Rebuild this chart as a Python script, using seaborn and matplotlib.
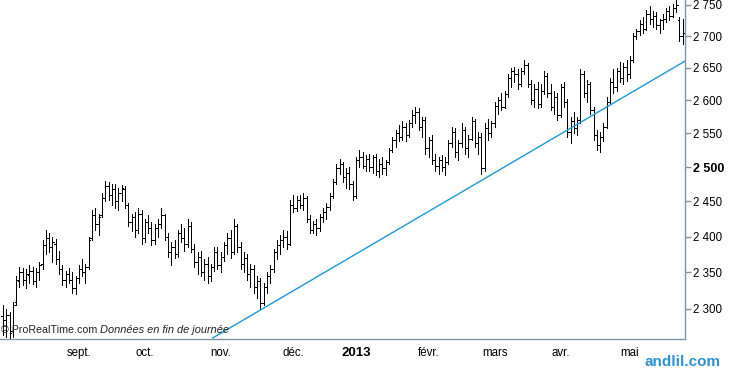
'''
Daily OHLC bars, Aug 2012 - May 2013, with a rising trend line.
'''
import pandas as pd
import numpy as np
import seaborn as sns
import matplotlib.pyplot as plt

# trading calendar (exchange closed on these days)
holidays = ['2012-12-25', '2012-12-26', '2013-01-01',
            '2013-03-29', '2013-04-01', '2013-05-01']
days = pd.bdate_range('2012-08-01', '2013-05-24', freq='C', holidays=holidays)

opens = [2290, 2285, 2292, 2270, 2310, 2338, 2350, 2340, 2346, 2352,
         2338, 2350, 2362, 2388, 2398, 2385, 2390, 2368, 2355, 2340,
         2348, 2340, 2328, 2342, 2355, 2350, 2358, 2398, 2430, 2418,
         2430, 2455, 2472, 2460, 2468, 2450, 2462, 2468, 2445, 2420,
         2428, 2410, 2432, 2398, 2420, 2412, 2395, 2412, 2418, 2430,
         2400, 2378, 2385, 2375, 2405, 2398, 2390, 2415, 2382, 2365,
         2372, 2350, 2362, 2345, 2358, 2378, 2360, 2372, 2388, 2398,
         2378, 2415, 2385, 2362, 2370, 2348, 2355, 2330, 2338, 2308,
         2330, 2345, 2355, 2378, 2388, 2395, 2400, 2390, 2445, 2440,
         2452, 2445, 2455, 2425, 2410, 2418, 2412, 2428, 2435, 2442,
         2458, 2478, 2498, 2505, 2485, 2492, 2475, 2458, 2510, 2515,
         2502, 2512, 2500, 2515, 2495, 2505, 2498, 2508, 2525, 2540,
         2550, 2545, 2560, 2548, 2565, 2578, 2582, 2560, 2570, 2528,
         2540, 2510, 2502, 2510, 2500, 2508, 2535, 2552, 2522, 2535,
         2555, 2528, 2542, 2568, 2535, 2545, 2498, 2558, 2550, 2565,
         2592, 2600, 2590, 2610, 2635, 2645, 2640, 2625, 2645, 2655,
         2625, 2600, 2618, 2595, 2615, 2638, 2612, 2590, 2605, 2578,
         2620, 2598, 2552, 2568, 2558, 2570, 2640, 2612, 2625, 2585,
         2548, 2532, 2545, 2560, 2598, 2628, 2620, 2645, 2635, 2652,
         2640, 2662, 2700, 2708, 2720, 2712, 2735, 2728, 2732, 2718,
         2725, 2728, 2740, 2732, 2745, 2725, 2700]
highs = [2305, 2300, 2296, 2310, 2345, 2358, 2356, 2355, 2360, 2358,
         2356, 2365, 2395, 2410, 2405, 2400, 2396, 2380, 2360, 2352,
         2356, 2350, 2345, 2360, 2368, 2362, 2400, 2438, 2440, 2432,
         2462, 2480, 2478, 2475, 2476, 2470, 2474, 2472, 2448, 2432,
         2435, 2440, 2438, 2425, 2430, 2420, 2418, 2425, 2440, 2432,
         2405, 2392, 2395, 2410, 2418, 2412, 2425, 2420, 2390, 2378,
         2380, 2368, 2372, 2362, 2385, 2385, 2378, 2392, 2405, 2410,
         2425, 2418, 2392, 2378, 2375, 2362, 2360, 2345, 2342, 2335,
         2350, 2360, 2382, 2395, 2402, 2410, 2408, 2452, 2460, 2458,
         2460, 2462, 2458, 2430, 2422, 2425, 2432, 2440, 2448, 2462,
         2482, 2505, 2512, 2508, 2498, 2500, 2480, 2515, 2525, 2522,
         2518, 2520, 2518, 2520, 2512, 2515, 2510, 2528, 2545, 2555,
         2562, 2568, 2565, 2570, 2585, 2590, 2588, 2575, 2575, 2545,
         2548, 2520, 2515, 2518, 2515, 2540, 2560, 2558, 2540, 2565,
         2560, 2548, 2575, 2572, 2552, 2550, 2565, 2572, 2568, 2598,
         2605, 2612, 2615, 2640, 2650, 2652, 2648, 2650, 2662, 2658,
         2632, 2625, 2628, 2625, 2645, 2642, 2625, 2615, 2612, 2625,
         2628, 2602, 2575, 2582, 2575, 2648, 2645, 2632, 2628, 2590,
         2555, 2552, 2565, 2605, 2635, 2648, 2650, 2660, 2658, 2662,
         2668, 2705, 2712, 2725, 2730, 2742, 2748, 2740, 2738, 2728,
         2735, 2745, 2748, 2752, 2758, 2730, 2728]
lows = [2265, 2262, 2258, 2262, 2305, 2330, 2332, 2328, 2335, 2334,
        2330, 2340, 2355, 2375, 2378, 2365, 2362, 2348, 2332, 2330,
        2335, 2322, 2320, 2336, 2345, 2335, 2355, 2395, 2410, 2402,
        2428, 2450, 2452, 2445, 2440, 2438, 2450, 2440, 2415, 2408,
        2400, 2405, 2390, 2392, 2405, 2388, 2390, 2400, 2412, 2395,
        2372, 2360, 2370, 2372, 2392, 2380, 2385, 2378, 2358, 2348,
        2345, 2340, 2335, 2338, 2352, 2355, 2350, 2366, 2375, 2370,
        2375, 2378, 2355, 2350, 2340, 2330, 2322, 2315, 2300, 2305,
        2322, 2335, 2350, 2368, 2375, 2385, 2382, 2388, 2435, 2436,
        2440, 2438, 2420, 2405, 2405, 2402, 2408, 2420, 2425, 2438,
        2455, 2475, 2490, 2478, 2470, 2468, 2452, 2455, 2500, 2498,
        2495, 2495, 2492, 2488, 2485, 2490, 2488, 2505, 2522, 2530,
        2538, 2540, 2538, 2545, 2560, 2565, 2555, 2545, 2520, 2515,
        2505, 2495, 2490, 2495, 2488, 2505, 2530, 2515, 2510, 2530,
        2520, 2515, 2540, 2530, 2520, 2490, 2495, 2540, 2545, 2560,
        2580, 2585, 2588, 2605, 2620, 2628, 2618, 2622, 2640, 2620,
        2595, 2590, 2588, 2590, 2610, 2605, 2585, 2580, 2570, 2575,
        2590, 2545, 2535, 2550, 2548, 2565, 2605, 2598, 2580, 2540,
        2525, 2522, 2538, 2558, 2595, 2612, 2615, 2628, 2625, 2630,
        2635, 2660, 2695, 2702, 2705, 2710, 2720, 2715, 2712, 2705,
        2712, 2722, 2725, 2730, 2738, 2692, 2688]
closes = [2285, 2292, 2268, 2305, 2340, 2350, 2340, 2348, 2352, 2338,
          2350, 2360, 2388, 2398, 2385, 2392, 2368, 2355, 2340, 2348,
          2340, 2328, 2342, 2355, 2350, 2358, 2395, 2430, 2418, 2428,
          2455, 2472, 2460, 2468, 2450, 2462, 2470, 2445, 2420, 2428,
          2410, 2432, 2398, 2420, 2412, 2395, 2412, 2418, 2430, 2400,
          2378, 2385, 2375, 2405, 2398, 2390, 2415, 2382, 2365, 2372,
          2350, 2362, 2345, 2358, 2378, 2360, 2372, 2388, 2398, 2378,
          2415, 2385, 2362, 2370, 2348, 2355, 2330, 2338, 2308, 2330,
          2345, 2355, 2378, 2388, 2395, 2400, 2390, 2445, 2440, 2452,
          2445, 2455, 2425, 2410, 2418, 2412, 2428, 2435, 2442, 2458,
          2478, 2498, 2505, 2485, 2492, 2475, 2458, 2510, 2515, 2502,
          2512, 2500, 2515, 2495, 2505, 2498, 2508, 2525, 2540, 2550,
          2545, 2560, 2548, 2565, 2578, 2582, 2560, 2570, 2528, 2540,
          2510, 2502, 2510, 2500, 2508, 2535, 2552, 2522, 2535, 2555,
          2528, 2542, 2568, 2535, 2545, 2498, 2558, 2550, 2565, 2592,
          2600, 2590, 2610, 2635, 2645, 2640, 2625, 2645, 2655, 2625,
          2600, 2618, 2595, 2615, 2638, 2612, 2590, 2605, 2578, 2620,
          2598, 2552, 2568, 2558, 2570, 2640, 2612, 2625, 2585, 2548,
          2532, 2545, 2560, 2598, 2628, 2620, 2645, 2635, 2652, 2640,
          2662, 2700, 2708, 2720, 2712, 2735, 2728, 2732, 2718, 2725,
          2728, 2740, 2732, 2745, 2750, 2700, 2705]

# trend line drawn by hand on the chart (bar position, price)
trend_pos = [63.5, 206.8]
trend_price = [2261, 2661]

month_names = ['sept.', 'oct.', 'nov.', 'déc.', '2013', 'févr.', 'mars', 'avr.', 'mai']
price_ticks = [2300, 2350, 2400, 2450, 2500, 2550, 2600, 2650, 2700, 2750]

axis_col = '#7d95a7'
sns.set_theme(style='white')
plt.rcParams['font.family'] = ['Liberation Sans', 'DejaVu Sans']

d = pd.DataFrame({'date': days, 'open': opens, 'high': highs,
                  'low': lows, 'close': closes})
d['pos'] = np.arange(len(d))

fig = plt.figure(figsize=(7.3, 3.76), dpi=100)
ax = fig.add_axes([0, 37 / 376, 685 / 730, 339 / 376])

# bars: high-low, open tick left, close tick right (1 px lines)
px = 0.72
ax.vlines(d['pos'], d['low'], d['high'], color='black', linewidth=px,
          antialiased=False)
ax.hlines(d['open'], d['pos'] - 0.5, d['pos'], color='black', linewidth=px,
          antialiased=False)
ax.hlines(d['close'], d['pos'], d['pos'] + 0.5, color='black', linewidth=px,
          antialiased=False)

sns.lineplot(x=trend_pos, y=trend_price, color='#1a9ad8', linewidth=1.0, ax=ax)

ax.set_yscale('log')
ax.set_xlim(-0.9, 206.7)
ax.set_ylim(2259.8, 2758)

# month ticks on first trading day of each month
first_days = d.groupby(d['date'].dt.to_period('M'))['pos'].min().values[1:]
ax.set_xticks(first_days)
ax.set_xticklabels(month_names)
ax.set_yticks(price_ticks)
ax.set_yticklabels([f'{v // 1000} {v % 1000:03d}' for v in price_ticks])
ax.minorticks_off()
ax.yaxis.tick_right()

ax.tick_params(axis='both', direction='out', length=4, width=1, color=axis_col,
               labelsize=8.3, labelcolor='black')
ax.tick_params(axis='y', pad=1.5)
ax.tick_params(axis='x', pad=2)
for lab in ax.get_xticklabels():
    if lab.get_text() == '2013':
        lab.set_fontweight('bold')
        lab.set_fontsize(9.5)
for lab in ax.get_yticklabels():
    if lab.get_text() == '2 500':
        lab.set_fontweight('bold')
        lab.set_fontsize(9)

for s in ['left', 'top']:
    ax.spines[s].set_visible(False)
for s in ['right', 'bottom']:
    ax.spines[s].set_color(axis_col)
    ax.spines[s].set_linewidth(1)
ax.set_xlabel('')
ax.set_ylabel('')

fig.text(1 / 730, 1 - 330 / 376, '© ProRealTime.com', fontsize=7.7,
         color='#222222', va='center', ha='left')
fig.text(100 / 730, 1 - 330 / 376, 'Données en fin de journée', fontsize=7.9,
         color='#222222', va='center', ha='left', style='italic')
fig.text(683 / 730, 1 - 362 / 376, 'andlil.com', fontsize=11, fontweight='bold',
         color='#2f93d3', va='center', ha='center')

plt.savefig('out.png', dpi=100)
